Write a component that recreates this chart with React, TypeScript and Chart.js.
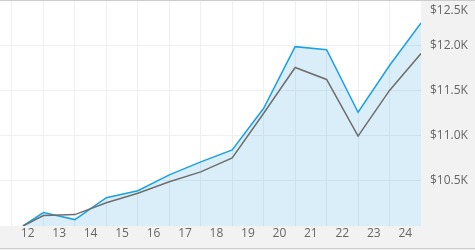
import { useEffect, useRef } from 'react';
import { Chart, registerables } from 'chart.js';

Chart.register(...registerables);

// Time positions of the points (fractional years; year-end points sit on the year gridlines)
const pointYears = [2012.35, 2013, 2014, 2015, 2016, 2017, 2018, 2019, 2020, 2021, 2022, 2023, 2024, 2025];
// Growth of $10,000 – fund (blue, filled)
const fundValues = [10000, 10148, 10071, 10313, 10390, 10566, 10709, 10841, 11302, 11984, 11951, 11258, 11775, 12247];
// Growth of $10,000 – benchmark (grey)
const benchmarkValues = [10000, 10115, 10126, 10258, 10363, 10489, 10599, 10753, 11247, 11753, 11621, 10995, 11500, 11907];
// Category (year) labels shown centred inside each year column
const yearLabels = ['12', '13', '14', '15', '16', '17', '18', '19', '20', '21', '22', '23', '24'];
const firstYear = 2012;
// Value-axis ticks
const yTickValues = [10000, 10500, 11000, 11500, 12000, 12500];

const FONT = '"Open Sans", "Noto Sans", sans-serif';
const GRID = '#efefef';

const framePlugin = {
  id: 'frame',
  beforeDraw(chart: any) {
    const { ctx, chartArea, width, height } = chart;
    ctx.save();
    ctx.fillStyle = '#f2f2f2';
    ctx.fillRect(0, 0, width, height);
    ctx.fillStyle = '#ffffff';
    ctx.fillRect(chartArea.left, chartArea.top, chartArea.right - chartArea.left, chartArea.bottom - chartArea.top);
    ctx.restore();
  },
  afterDraw(chart: any) {
    const { ctx, width } = chart;
    ctx.save();
    ctx.fillStyle = '#cccccc';
    ctx.fillRect(0, 0, width, 1);
    ctx.fillRect(0, 248, width, 1);
    ctx.restore();
  },
};

export default function App() {
  const ref = useRef<HTMLCanvasElement | null>(null);

  useEffect(() => {
    document.body.style.margin = '0';
    if (!ref.current) return;

    const xTicks: { value: number }[] = [];
    yearLabels.forEach((_, i) => {
      xTicks.push({ value: firstYear + i });
      xTicks.push({ value: firstYear + i + 0.5 });
    });

    const chart = new Chart(ref.current, {
      type: 'line',
      data: {
        datasets: [
          {
            label: 'Benchmark',
            data: pointYears.map((x, i) => ({ x, y: benchmarkValues[i] })),
            borderColor: '#6e6e6e',
            borderWidth: 1.5,
            pointRadius: 0,
            fill: false,
            tension: 0,
          },
          {
            label: 'Fund',
            data: pointYears.map((x, i) => ({ x, y: fundValues[i] })),
            borderColor: '#1ba1e2',
            backgroundColor: 'rgba(51,163,224,0.18)',
            borderWidth: 1.5,
            pointRadius: 0,
            fill: 'origin',
            tension: 0,
          },
        ],
      },
      options: {
        animation: false,
        responsive: true,
        maintainAspectRatio: false,
        layout: { padding: 0 },
        plugins: {
          legend: { display: false },
          tooltip: { enabled: false },
        },
        scales: {
          x: {
            type: 'linear',
            min: 2011.62,
            max: 2025,
            afterBuildTicks: (scale: any) => {
              scale.ticks = xTicks.map((t) => ({ ...t }));
            },
            afterFit: (scale: any) => {
              scale.height = 24;
              scale.paddingLeft = 0;
              scale.paddingRight = 0;
            },
            grid: {
              color: (ctx: any) => (ctx.tick && Number.isInteger(ctx.tick.value) ? GRID : 'rgba(0,0,0,0)'),
              lineWidth: 1,
              drawTicks: false,
            },
            border: { display: false },
            ticks: {
              autoSkip: false,
              maxRotation: 0,
              padding: 0,
              color: '#666666',
              font: { family: FONT, size: 12 },
              callback: (value: any) => {
                const v = Number(value);
                if (Number.isInteger(v)) return '';
                return yearLabels[Math.floor(v) - firstYear] ?? '';
              },
            },
          },
          y: {
            type: 'linear',
            position: 'right',
            min: 10000,
            max: 12500,
            afterBuildTicks: (scale: any) => {
              scale.ticks = yTickValues.map((value) => ({ value }));
            },
            afterFit: (scale: any) => {
              scale.width = 54;
              scale.paddingTop = 0;
              scale.paddingBottom = 0;
            },
            grid: {
              color: (ctx: any) => (ctx.tick && ctx.tick.value === 10000 ? 'rgba(0,0,0,0)' : GRID),
              lineWidth: 1,
              drawTicks: false,
            },
            border: { display: false },
            ticks: {
              autoSkip: false,
              padding: 9,
              color: '#666666',
              font: (ctx: any) =>
                ctx.tick && ctx.tick.value === 12500
                  ? { family: FONT, size: 12, lineHeight: 1.7 }
                  : { family: FONT, size: 12, lineHeight: 1.2 },
              callback: (value: any) => {
                const v = Number(value);
                if (v === 10000) return '';
                const text = '$' + (v / 1000).toFixed(1) + 'K';
                return v === 12500 ? ['', text] : text;
              },
            },
          },
        },
      },
      plugins: [framePlugin],
    });

    return () => chart.destroy();
  }, []);

  return (
    <div style={{ width: 475, height: 250, position: 'relative' }}>
      <canvas ref={ref} />
    </div>
  );
}
